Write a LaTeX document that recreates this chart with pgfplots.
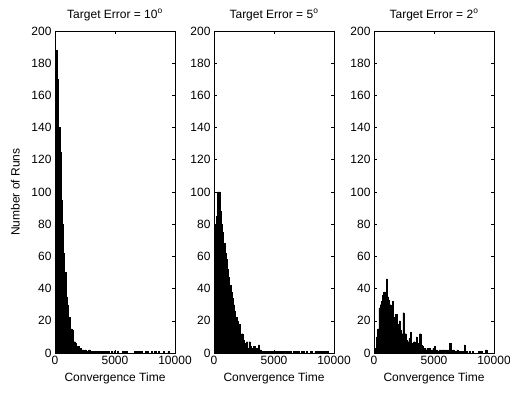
\documentclass[border=0pt]{standalone}
\usepackage{pgfplots}
\usepackage{pgfplotstable}
\usepackage{fontspec}
\setmainfont{Liberation Sans}
\pgfplotsset{compat=1.18}
\pgfplotstableread[row sep=\\]{
x y\\
0 90\\ 100 188\\ 200 170\\ 300 140\\ 400 125\\ 500 95\\ 600 80\\ 700 62\\ 800 50\\ 900 35\\
1000 30\\ 1100 22\\ 1200 22\\ 1300 15\\ 1400 14\\ 1500 5\\ 1600 7\\ 1700 6\\ 1800 4\\ 1900 4\\
2000 3\\ 2100 3\\ 2200 2\\ 2300 2\\ 2400 1\\ 2500 2\\ 2600 1\\ 2700 1\\ 2800 2\\ 2900 1\\
3000 1\\ 3100 0\\ 3200 1\\ 3300 1\\ 3400 0\\ 3500 1\\ 3600 1\\ 3700 0\\ 3800 1\\ 3900 1\\
4000 0\\ 4100 1\\ 4200 0\\ 4300 1\\ 4400 1\\ 4500 0\\ 4600 0\\ 4700 1\\ 4800 0\\ 4900 1\\
5000 0\\ 5100 0\\ 5200 1\\ 5300 0\\ 5400 0\\ 5500 0\\ 5600 1\\ 5700 0\\ 5800 1\\ 5900 1\\
6000 0\\ 6100 0\\ 6200 0\\ 6300 0\\ 6400 0\\ 6500 0\\ 6600 1\\ 6700 1\\ 6800 1\\ 6900 1\\
7000 0\\ 7100 1\\ 7200 1\\ 7300 0\\ 7400 0\\ 7500 1\\ 7600 0\\ 7700 1\\ 7800 0\\ 7900 0\\
8000 1\\ 8100 0\\ 8200 0\\ 8300 1\\ 8400 0\\ 8500 0\\ 8600 1\\ 8700 0\\ 8800 0\\ 8900 0\\
9000 1\\ 9100 0\\ 9200 0\\ 9300 0\\ 9400 1\\ 9500 0\\ 9600 0\\ 9700 0\\ 9800 0\\ 9900 0\\
10000 0\\
}\tenDeg
\pgfplotstableread[row sep=\\]{
x y\\
0 20\\ 100 80\\ 200 85\\ 300 100\\ 400 100\\ 500 88\\ 600 80\\ 700 75\\ 800 68\\ 900 62\\
1000 58\\ 1100 52\\ 1200 47\\ 1300 42\\ 1400 38\\ 1500 34\\ 1600 30\\ 1700 26\\ 1800 22\\ 1900 20\\
2000 17\\ 2100 18\\ 2200 10\\ 2300 12\\ 2400 8\\ 2500 6\\ 2600 4\\ 2700 7\\ 2800 3\\ 2900 7\\
3000 4\\ 3100 3\\ 3200 3\\ 3300 4\\ 3400 2\\ 3500 3\\ 3600 2\\ 3700 5\\ 3800 2\\ 3900 1\\
4000 1\\ 4100 1\\ 4200 0\\ 4300 1\\ 4400 1\\ 4500 1\\ 4600 0\\ 4700 1\\ 4800 1\\ 4900 0\\
5000 1\\ 5100 1\\ 5200 0\\ 5300 1\\ 5400 1\\ 5500 1\\ 5600 0\\ 5700 1\\ 5800 1\\ 5900 0\\
6000 1\\ 6100 0\\ 6200 1\\ 6300 1\\ 6400 0\\ 6500 0\\ 6600 1\\ 6700 0\\ 6800 1\\ 6900 0\\
7000 1\\ 7100 0\\ 7200 0\\ 7300 1\\ 7400 1\\ 7500 0\\ 7600 0\\ 7700 1\\ 7800 0\\ 7900 0\\
8000 1\\ 8100 1\\ 8200 0\\ 8300 0\\ 8400 1\\ 8500 0\\ 8600 1\\ 8700 0\\ 8800 1\\ 8900 1\\
9000 0\\ 9100 1\\ 9200 0\\ 9300 1\\ 9400 1\\ 9500 0\\ 9600 0\\ 9700 0\\ 9800 0\\ 9900 0\\
10000 0\\
}\fiveDeg
\pgfplotstableread[row sep=\\]{
x y\\
0 0\\ 100 3\\ 200 10\\ 300 15\\ 400 28\\ 500 30\\ 600 32\\ 700 36\\ 800 38\\ 900 30\\
1000 46\\ 1100 35\\ 1200 33\\ 1300 30\\ 1400 28\\ 1500 32\\ 1600 22\\ 1700 20\\ 1800 24\\ 1900 18\\
2000 15\\ 2100 20\\ 2200 14\\ 2300 12\\ 2400 25\\ 2500 10\\ 2600 12\\ 2700 8\\ 2800 7\\ 2900 9\\
3000 13\\ 3100 6\\ 3200 5\\ 3300 7\\ 3400 5\\ 3500 10\\ 3600 6\\ 3700 4\\ 3800 12\\ 3900 5\\
4000 4\\ 4100 3\\ 4200 3\\ 4300 2\\ 4400 3\\ 4500 2\\ 4600 3\\ 4700 2\\ 4800 2\\ 4900 3\\
5000 4\\ 5100 2\\ 5200 2\\ 5300 1\\ 5400 2\\ 5500 2\\ 5600 1\\ 5700 2\\ 5800 2\\ 5900 1\\
6000 2\\ 6100 1\\ 6200 2\\ 6300 6\\ 6400 2\\ 6500 1\\ 6600 2\\ 6700 1\\ 6800 1\\ 6900 2\\
7000 1\\ 7100 1\\ 7200 1\\ 7300 1\\ 7400 1\\ 7500 5\\ 7600 1\\ 7700 1\\ 7800 0\\ 7900 1\\
8000 0\\ 8100 0\\ 8200 1\\ 8300 0\\ 8400 0\\ 8500 0\\ 8600 0\\ 8700 1\\ 8800 1\\ 8900 1\\
9000 0\\ 9100 0\\ 9200 0\\ 9300 2\\ 9400 0\\ 9500 0\\ 9600 0\\ 9700 0\\ 9800 0\\ 9900 0\\
10000 0\\
}\twoDeg
\pgfplotsset{
  panel/.style={
    width=120bp, height=322bp, scale only axis, anchor=south west,
    xmin=0, xmax=10000, ymin=0, ymax=200,
    xtick={0,5000,10000}, ytick={0,20,...,200},
    scaled x ticks=false,
    /pgf/number format/1000 sep={},
    /pgf/number format/assume math mode=true,
    tick align=inside, major tick length=3bp,
    axis line style={line width=0.7pt},
    tick style={line width=0.6pt, black},
    tick label style={font=\fontsize{12bp}{14bp}\selectfont},
    label style={font=\fontsize{12bp}{14bp}\selectfont},
    title style={font=\fontsize{12bp}{14bp}\selectfont, yshift=1bp},
    xlabel={Convergence Time},
    xlabel style={yshift=-1bp},
  },
  hist/.style={ybar interval, fill=black, draw=black, line width=0.3pt},
}
\begin{document}
\begin{tikzpicture}
\useasboundingbox (0,0) rectangle (510bp,394bp);
\begin{axis}[panel, at={(55bp,41bp)}, title={Target Error = 10\textsuperscript{o}}, ylabel={Number of Runs}, ylabel style={yshift=5bp}]
\addplot[hist] table[x=x,y=y] {\tenDeg};
\end{axis}
\begin{axis}[panel, at={(214bp,41bp)}, title={Target Error = 5\textsuperscript{o}}]
\addplot[hist] table[x=x,y=y] {\fiveDeg};
\end{axis}
\begin{axis}[panel, at={(374bp,41bp)}, title={Target Error = 2\textsuperscript{o}}]
\addplot[hist] table[x=x,y=y] {\twoDeg};
\end{axis}
\end{tikzpicture}
\end{document}
